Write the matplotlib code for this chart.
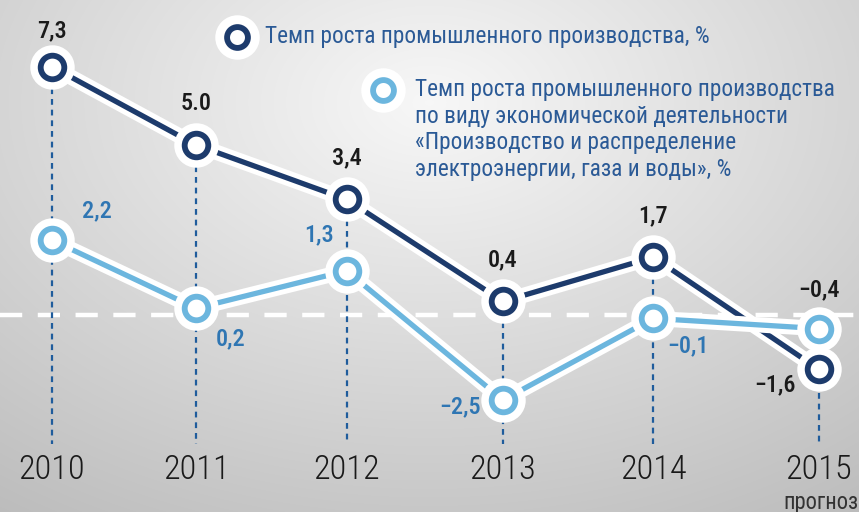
import numpy as np
import matplotlib
matplotlib.use('Agg')
import matplotlib.pyplot as plt
import matplotlib.patheffects as pe
from matplotlib import font_manager

# Data
years = [2010, 2011, 2012, 2013, 2014, 2015]
x_pos = [0, 0.94, 1.92, 2.94, 3.92, 5.0]  # slightly uneven spacing as in the picture
industry = [7.3, 5.0, 3.4, 0.4, 1.7, -1.6]
energy = [2.2, 0.2, 1.3, -2.5, -0.1, -0.4]
industry_labels = ['7,3', '5.0', '3,4', '0,4', '1,7', '\u22121,6']
energy_labels = ['2,2', '0,2', '1,3', '\u22122,5', '\u22120,1', '\u22120,4']
legend_1 = 'Темп роста промышленного производства, %'
legend_2 = ('Темп роста промышленного производства\n'
            'по виду экономической деятельности\n'
            '«Производство и распределение\n'
            'электроэнергии, газа и воды», %')

dark = '#1d3b6c'
light = '#6cb6de'
vline_col = '#1f5c9c'
lab_blue = '#2f76b3'
leg_blue = '#2b5a96'

# narrow face if there is one, otherwise Roboto
names = {f.name for f in font_manager.fontManager.ttflist}
font = 'Roboto Condensed' if 'Roboto Condensed' in names else 'Roboto'
plt.rcParams['font.family'] = [font, 'DejaVu Sans']

fig = plt.figure(figsize=(8.59, 5.12), dpi=100)
W, H = 859, 512

# background gradient in its own axes
bg_ax = fig.add_axes([0, 0, 1, 1], zorder=-1)
xx, yy = np.meshgrid(np.linspace(0, 1, W), np.linspace(0, 1, H))
d = np.sqrt(((xx - 0.5) / 0.75) ** 2 + ((yy - 0.2) / 0.85) ** 2)
g = 0.97 - 0.2 * np.clip(d, 0, 1.2)
bg_ax.imshow(np.dstack([g, g, g]), aspect='auto', extent=[0, 1, 0, 1])
bg_ax.axis('off')

ax = fig.add_axes([0, 0, 1, 1])
ax.set_facecolor('none')

# pixel geometry: 2010 at x=52, 2015 at x=819; zero at y=315, ~34 px per unit
step = (819 - 52) / 5.0
ax.set_xlim(-52 / step, 5 + 40 / step)
ax.set_ylim(-(512 - 315) / 34.0, 315 / 34.0)
ax.axis('off')

renderer = fig.canvas.get_renderer()


def fit_size(txt, width_px, base=14, weight='normal'):
    t = fig.text(0, 0, txt, fontsize=base, fontweight=weight)
    w = t.get_window_extent(renderer).width
    t.remove()
    return base * width_px / w


year_fs = fit_size('2010', 67, weight='light')
leg_fs = fit_size(legend_1, 442)
val_fs = fit_size('7,3', 29)

# zero line
ax.axhline(0, color='white', lw=3.2, dashes=(5, 3.5), zorder=1)

# vertical dashed guides
bottom = -3.8
for i, x in enumerate(x_pos):
    top = max(industry[i], energy[i])
    ax.plot([x, x], [top, bottom], color=vline_col, lw=1.6, dashes=(2.6, 2.2), zorder=2)

halo = [pe.withStroke(linewidth=11, foreground='white')]


def draw_series(vals, col, z):
    ax.plot(x_pos, vals, color=col, lw=3.8, zorder=z, path_effects=halo,
            solid_capstyle='butt')
    ax.plot(x_pos, vals, 'o', ms=32, color='white', mec='none', zorder=z + 0.1)
    ax.plot(x_pos, vals, 'o', ms=17, mfc='white', mec=col, mew=4.2, zorder=z + 0.2)


draw_series(industry, dark, 3)
draw_series(energy, light, 4)

# value labels (offsets in points)
ind_off = [(0, 26), (0, 30), (0, 30), (0, 30), (0, 30), (-32, -11)]
en_off = [(32, 21), (25, -22), (-20, 26), (-31, -5), (25, -20), (0, 28)]
for i, x in enumerate(x_pos):
    ax.annotate(industry_labels[i], (x, industry[i]), xytext=ind_off[i],
                textcoords='offset points', ha='center', va='center',
                fontsize=val_fs, fontweight='medium', color='#1a1a1a', zorder=6)
    col = '#1a1a1a' if i == 5 else lab_blue
    ax.annotate(energy_labels[i], (x, energy[i]), xytext=en_off[i],
                textcoords='offset points', ha='center', va='center',
                fontsize=val_fs, fontweight='medium', color=col, zorder=6)

# year labels
for i, x in enumerate(x_pos):
    ax.text(x, (315 - 470) / 34.0, str(years[i]), ha='center', va='center',
            fontsize=year_fs, fontweight='light', color='#1a1a1a', zorder=6)
ax.text(x_pos[5] - 36 / step, (315 - 503) / 34.0, 'прогноз', ha='left', va='center',
        fontsize=year_fs * 0.66, color='#333333', zorder=6)

# legend
for (px, py), col in [((237, 37), dark), ((383, 90), light)]:
    fig.lines.append(plt.Line2D([px / W], [1 - py / H], marker='o', ms=32,
                                color='white', mec='none', transform=fig.transFigure, zorder=7))
    fig.lines.append(plt.Line2D([px / W], [1 - py / H], marker='o', ms=15,
                                mfc='white', mec=col, mew=4.2, transform=fig.transFigure, zorder=8))
fig.text(265 / W, 1 - 37 / H, legend_1, ha='left', va='center', fontsize=leg_fs,
         color=leg_blue, zorder=9)
fig.text(415 / W, 1 - 78 / H, legend_2, ha='left', va='top', fontsize=leg_fs,
         color=leg_blue, linespacing=1.2, zorder=9)

fig.savefig('out.png', dpi=100)
